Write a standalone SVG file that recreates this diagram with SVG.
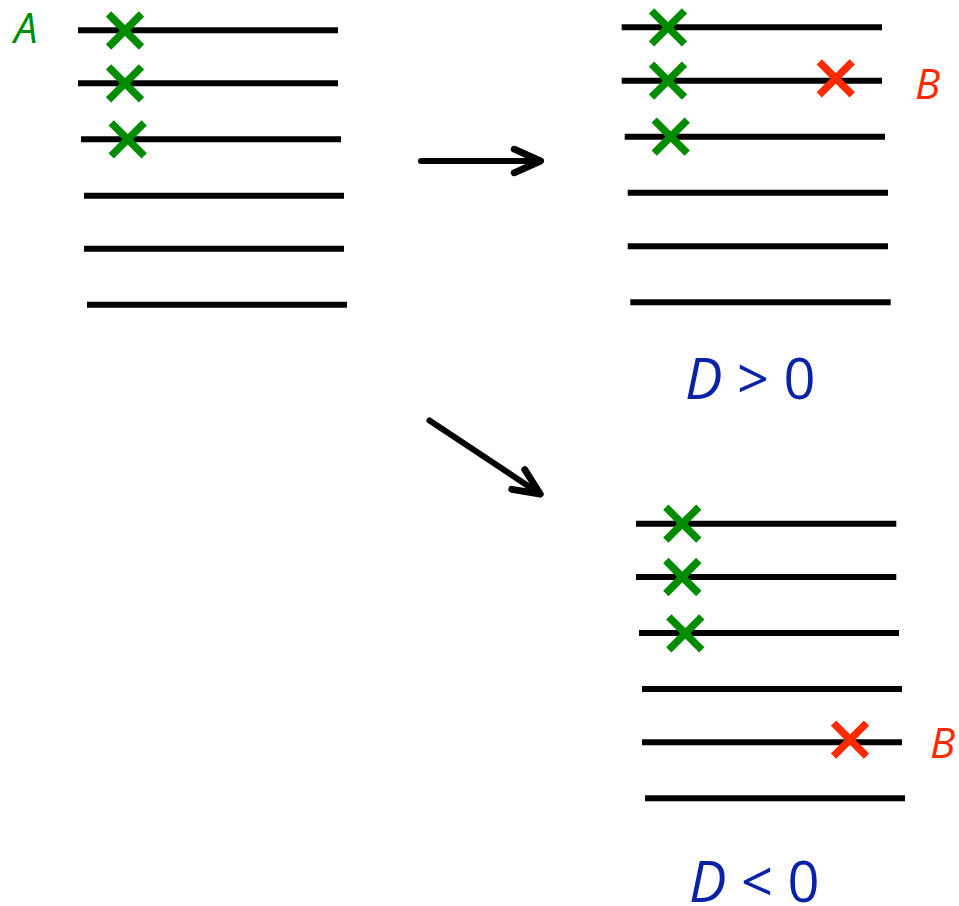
<svg xmlns="http://www.w3.org/2000/svg" xmlns:xlink="http://www.w3.org/1999/xlink" width="959" height="906" viewBox="0 0 959 906">
  <style>
    .lvl { stroke: #000; stroke-width: 6; fill: none; }
    .g { stroke: #008c00; stroke-width: 7.5; fill: none; }
    .r { stroke: #ff2a00; stroke-width: 7.5; fill: none; }
    .lab { font-family: "Open Sans", "DejaVu Sans", sans-serif; font-style: italic; font-size: 42px; }
    .eq { font-family: "Open Sans", "DejaVu Sans", sans-serif; font-size: 56px; fill: #0a22a8; }
    .conn { stroke: #000; stroke-width: 6; fill: none; stroke-linecap: round; }
  </style>
  <defs>
    <path id="cross" d="M-16.5,-16.5 L16.5,16.5 M-16.5,16.5 L16.5,-16.5"/>
    <marker id="head" markerUnits="userSpaceOnUse" markerWidth="40" markerHeight="40" viewBox="-30 -15 35 30" refX="0" refY="0" orient="auto" overflow="visible">
      <path d="M-23,-10.3 L0,0 L-23,10.3" fill="none" stroke="#000" stroke-width="6" stroke-linecap="round" stroke-linejoin="round"/>
    </marker>
  </defs>
  <rect width="959" height="906" fill="#fff"/>

  <!-- initial state -->
  <g id="state-initial">
    <line class="lvl" x1="78" y1="30.3" x2="338" y2="30.3"/>
    <line class="lvl" x1="78" y1="83.3" x2="338" y2="83.3"/>
    <line class="lvl" x1="81" y1="139.3" x2="341" y2="139.3"/>
    <line class="lvl" x1="84" y1="195.7" x2="344" y2="195.7"/>
    <line class="lvl" x1="84" y1="248.7" x2="344" y2="248.7"/>
    <line class="lvl" x1="87" y1="304.7" x2="347" y2="304.7"/>
    <use xlink:href="#cross" class="g" x="125" y="30.5"/>
    <use xlink:href="#cross" class="g" x="125" y="83.3"/>
    <use xlink:href="#cross" class="g" x="127.7" y="139.3"/>
    <text class="lab" x="14" y="43" fill="#008c00">A</text>
  </g>

  <!-- upper final state -->
  <g id="state-positive">
    <line class="lvl" x1="621.7" y1="27.3" x2="882" y2="27.3"/>
    <line class="lvl" x1="621.7" y1="80.7" x2="882" y2="80.7"/>
    <line class="lvl" x1="624.7" y1="136.7" x2="885" y2="136.7"/>
    <line class="lvl" x1="627.7" y1="192.7" x2="888" y2="192.7"/>
    <line class="lvl" x1="627.7" y1="246.3" x2="888" y2="246.3"/>
    <line class="lvl" x1="630.3" y1="302.3" x2="890.7" y2="302.3"/>
    <use xlink:href="#cross" class="g" x="668" y="27.3"/>
    <use xlink:href="#cross" class="g" x="668" y="80.7"/>
    <use xlink:href="#cross" class="g" x="670.7" y="136.7"/>
    <use xlink:href="#cross" class="r" x="835.7" y="78.3"/>
    <text class="lab" x="915" y="99.3" fill="#ff2a00">B</text>
    <text class="eq" x="685" y="399.3"><tspan font-style="italic">D</tspan> &gt; 0</text>
  </g>

  <!-- lower final state -->
  <g id="state-negative">
    <line class="lvl" x1="636" y1="523.7" x2="896.3" y2="523.7"/>
    <line class="lvl" x1="636" y1="577" x2="896.3" y2="577"/>
    <line class="lvl" x1="639" y1="633" x2="899" y2="633"/>
    <line class="lvl" x1="642" y1="689" x2="902" y2="689"/>
    <line class="lvl" x1="642" y1="742.3" x2="902" y2="742.3"/>
    <line class="lvl" x1="645" y1="798.3" x2="905" y2="798.3"/>
    <use xlink:href="#cross" class="g" x="682.3" y="523.7"/>
    <use xlink:href="#cross" class="g" x="682.3" y="577"/>
    <use xlink:href="#cross" class="g" x="685.3" y="633.3"/>
    <use xlink:href="#cross" class="r" x="850" y="739.7"/>
    <text class="lab" x="930" y="758.3" fill="#ff2a00">B</text>
    <text class="eq" x="689" y="901.5"><tspan font-style="italic">D</tspan> &lt; 0</text>
  </g>

  <!-- transitions -->
  <g id="connectors">
    <line class="conn" x1="421" y1="161" x2="540.5" y2="161" stroke-linecap="butt" marker-end="url(#head)"/>
    <line class="conn" x1="429.5" y1="420.5" x2="540.2" y2="494" marker-end="url(#head)"/>
  </g>
</svg>
